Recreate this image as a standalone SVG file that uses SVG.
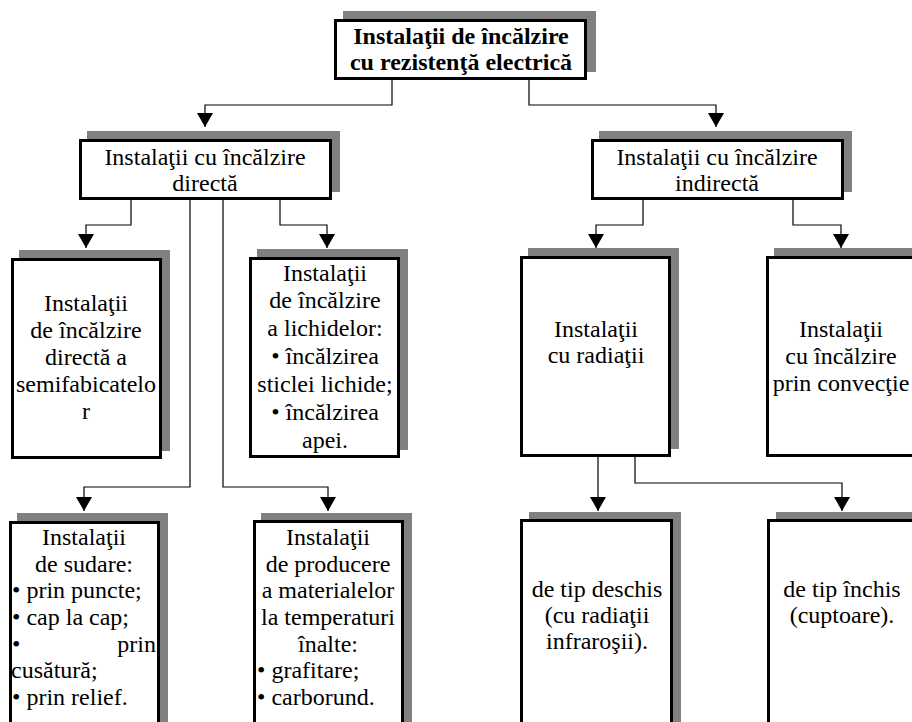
<svg xmlns="http://www.w3.org/2000/svg" width="912" height="722" viewBox="0 0 912 722">
<defs>
<style>
.sh{fill:#808080;stroke:none}
.bx{fill:#fff;stroke:#000;stroke-width:3}
.t{font-family:"Liberation Serif","Times New Roman",serif;font-size:24px;fill:#000;text-anchor:middle}
.tl{text-anchor:start}
.b{font-weight:bold}
.c{fill:none;stroke:#000;stroke-width:1.2}
</style>
<marker id="ah" markerUnits="userSpaceOnUse" markerWidth="14" markerHeight="16" refX="14" refY="8" orient="auto" viewBox="0 0 14 16">
<path d="M0,0 L14,8 L0,16 z" fill="#000"/>
</marker>
</defs>
<rect width="912" height="722" fill="#fff"/>

<g id="connectors">
<path class="c" d="M392 80 V105 H205 V127" marker-end="url(#ah)"/>
<path class="c" d="M529 80 V105 H716 V127" marker-end="url(#ah)"/>
<path class="c" d="M131 200 V225 H86 V248" marker-end="url(#ah)"/>
<path class="c" d="M280 200 V225 H327 V248" marker-end="url(#ah)"/>
<path class="c" d="M190 200 V487 H84 V511" marker-end="url(#ah)"/>
<path class="c" d="M223 200 V487 H328 V511" marker-end="url(#ah)"/>
<path class="c" d="M643 200 V225 H596 V248" marker-end="url(#ah)"/>
<path class="c" d="M793 200 V225 H841 V248" marker-end="url(#ah)"/>
<path class="c" d="M598 457 V511" marker-end="url(#ah)"/>
<path class="c" d="M635 457 V483 H842 V511" marker-end="url(#ah)"/>
</g>

<g id="root">
<rect class="sh" x="343" y="11" width="253" height="61"/>
<rect class="bx" x="335.5" y="20.5" width="250" height="58"/>
<text class="t b" x="461" y="44">Instalaţii de încălzire</text>
<text class="t b" x="461" y="70">cu rezistenţă electrică</text>
</g>

<g id="direct">
<rect class="sh" x="87" y="131" width="253" height="61"/>
<rect class="bx" x="80.5" y="140.5" width="250" height="58"/>
<text class="t" x="205" y="165">Instalaţii cu încălzire</text>
<text class="t" x="205" y="191">directă</text>
</g>

<g id="indirect">
<rect class="sh" x="599" y="131" width="253" height="61"/>
<rect class="bx" x="592.5" y="140.5" width="250" height="58"/>
<text class="t" x="717" y="165">Instalaţii cu încălzire</text>
<text class="t" x="717" y="191">indirectă</text>
</g>

<g id="semifabricate">
<rect class="sh" x="19" y="250" width="151" height="201"/>
<rect class="bx" x="12.5" y="259.5" width="148" height="198"/>
<text class="t" x="86" y="311">Instalaţii</text>
<text class="t" x="86" y="338">de încălzire</text>
<text class="t" x="86" y="365">directă a</text>
<text class="t" x="86" y="392">semifabicatelo</text>
<text class="t" x="86" y="419">r</text>
</g>

<g id="lichide">
<rect class="sh" x="257" y="249" width="151" height="201"/>
<rect class="bx" x="250.5" y="258.5" width="148" height="198"/>
<text class="t" x="325" y="281">Instalaţii</text>
<text class="t" x="325" y="308">de încălzire</text>
<text class="t" x="325" y="336">a lichidelor:</text>
<text class="t" x="325" y="364">• încălzirea</text>
<text class="t" x="325" y="392">sticlei lichide;</text>
<text class="t" x="325" y="420">• încălzirea</text>
<text class="t" x="325" y="448">apei.</text>
</g>

<g id="radiatii">
<rect class="sh" x="528" y="248" width="151" height="201"/>
<rect class="bx" x="521.5" y="257.5" width="148" height="198"/>
<text class="t" x="596" y="337">Instalaţii</text>
<text class="t" x="596" y="363">cu radiaţii</text>
</g>

<g id="convectie">
<rect class="sh" x="774" y="248" width="151" height="201"/>
<rect class="bx" x="767.5" y="257.5" width="148" height="198"/>
<text class="t" x="841" y="337">Instalaţii</text>
<text class="t" x="841" y="364">cu încălzire</text>
<text class="t" x="841" y="391">prin convecţie</text>
</g>

<g id="sudare">
<rect class="sh" x="17" y="513" width="151" height="230"/>
<rect class="bx" x="10.5" y="522.5" width="148" height="230"/>
<text class="t" x="84" y="545">Instalaţii</text>
<text class="t" x="84" y="572">de sudare:</text>
<text class="t tl" x="12" y="598">• prin puncte;</text>
<text class="t tl" x="12" y="625">• cap la cap;</text>
<text class="t" y="652"><tspan x="12" text-anchor="start">•</tspan><tspan x="156" text-anchor="end">prin</tspan></text>
<text class="t tl" x="11" y="678">cusătură;</text>
<text class="t tl" x="12" y="705">• prin relief.</text>
</g>

<g id="producere">
<rect class="sh" x="261" y="513" width="151" height="230"/>
<rect class="bx" x="254.5" y="521.5" width="148" height="230"/>
<text class="t" x="328" y="545">Instalaţii</text>
<text class="t" x="328" y="572">de producere</text>
<text class="t" x="328" y="598">a materialelor</text>
<text class="t" x="328" y="625">la temperaturi</text>
<text class="t" x="328" y="652">înalte:</text>
<text class="t tl" x="257" y="678">• grafitare;</text>
<text class="t tl" x="257" y="705">• carborund.</text>
</g>

<g id="deschis">
<rect class="sh" x="529" y="512" width="152" height="230"/>
<rect class="bx" x="521.5" y="520.5" width="150" height="230"/>
<text class="t" x="597" y="597">de tip deschis</text>
<text class="t" x="597" y="623">(cu radiaţii</text>
<text class="t" x="597" y="649">infraroşii).</text>
</g>

<g id="inchis">
<rect class="sh" x="776" y="512" width="152" height="230"/>
<rect class="bx" x="768.5" y="520.5" width="150" height="230"/>
<text class="t" x="842" y="597">de tip închis</text>
<text class="t" x="842" y="623">(cuptoare).</text>
</g>
</svg>
